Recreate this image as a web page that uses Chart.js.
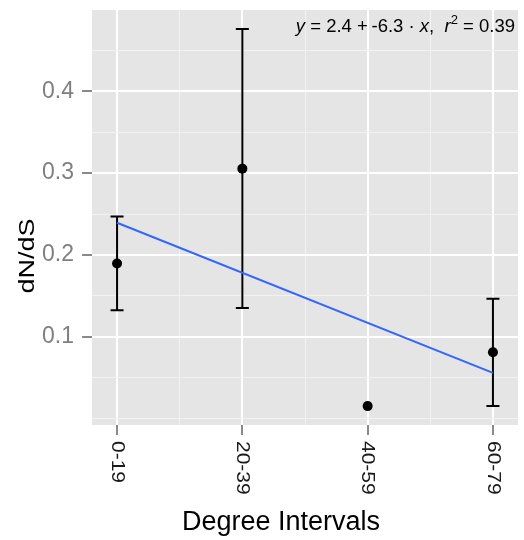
<!DOCTYPE html>
<html>
<head>
<meta charset="utf-8">
<script src="https://cdn.jsdelivr.net/npm/chart.js@4.4.1/dist/chart.umd.min.js"></script>
<style>
  body { margin: 0; background: #ffffff; }
  #wrap { width: 524px; height: 540px; }
</style>
</head>
<body>
<div id="wrap"><canvas id="myChart" width="524" height="540"></canvas></div>
<script>
// Categorie e valori
const categories = ["0-19", "20-39", "40-59", "60-79"];
const dnds = [0.1895, 0.3055, 0.015, 0.081];
const lowerValues = [0.1323, 0.135, null, 0.0151];
const upperValues = [0.247, 0.4765, null, 0.1463];

// Retta di regressione (estremi)
const fitX = [0, 3];
const fitY = [0.2393, 0.0556];

// Tick e griglia
const yGridValues = [0, 0.05, 0.1, 0.15, 0.2, 0.25, 0.3, 0.35, 0.4, 0.45];
const yTickLabels = ["0.1", "0.2", "0.3", "0.4"];
const xGridValues = [0, 0.5, 1, 1.5, 2, 2.5, 3];

const FONT = "'Liberation Sans', Arial, Helvetica, sans-serif";

function isMajorY(v) {
  return yTickLabels.includes(v.toFixed(1)) && Math.abs(v * 10 - Math.round(v * 10)) < 1e-6;
}
function isMajorX(v) {
  return Math.abs(v - Math.round(v)) < 1e-6;
}

// Sfondo grigio del pannello
const panelBackground = {
  id: "panelBackground",
  beforeDraw(chart) {
    const { ctx, chartArea } = chart;
    ctx.save();
    ctx.fillStyle = "#E5E5E5";
    ctx.fillRect(chartArea.left, chartArea.top, chartArea.right - chartArea.left, chartArea.bottom - chartArea.top);
    ctx.restore();
  }
};

// Barre di errore
const errorBars = {
  id: "errorBars",
  beforeDatasetsDraw(chart) {
    const { ctx, scales } = chart;
    ctx.save();
    ctx.strokeStyle = "#000000";
    ctx.lineWidth = 2;
    for (let i = 0; i < categories.length; i++) {
      if (lowerValues[i] === null) continue;
      const px = scales.x.getPixelForValue(i);
      const yLo = scales.y.getPixelForValue(lowerValues[i]);
      const yHi = scales.y.getPixelForValue(upperValues[i]);
      const half = 6.5;
      ctx.beginPath();
      ctx.moveTo(px, yLo);
      ctx.lineTo(px, yHi);
      ctx.moveTo(px - half, yLo);
      ctx.lineTo(px + half, yLo);
      ctx.moveTo(px - half, yHi);
      ctx.lineTo(px + half, yHi);
      ctx.stroke();
    }
    ctx.restore();
  }
};

// Etichette ruotate, titoli degli assi e annotazione
const textLayer = {
  id: "textLayer",
  afterDraw(chart) {
    const { ctx, scales, chartArea } = chart;
    ctx.save();

    // Etichette asse x (ruotate in senso orario)
    ctx.fillStyle = "#1a1a1a";
    ctx.font = "21px " + FONT;
    ctx.textAlign = "left";
    ctx.textBaseline = "middle";
    for (let i = 0; i < categories.length; i++) {
      const px = scales.x.getPixelForValue(i);
      ctx.save();
      ctx.translate(px, chartArea.bottom + 16);
      ctx.rotate(Math.PI / 2);
      ctx.scale(1, 0.9);
      ctx.fillText(categories[i], 0, 0);
      ctx.restore();
    }

    // Titolo asse x
    ctx.fillStyle = "#000000";
    ctx.font = "27px " + FONT;
    ctx.textAlign = "center";
    ctx.textBaseline = "alphabetic";
    ctx.fillText("Degree Intervals", 281, 530);

    // Titolo asse y
    ctx.save();
    ctx.translate(28, 256);
    ctx.rotate(-Math.PI / 2);
    ctx.scale(1, 0.85);
    ctx.font = "27px " + FONT;
    ctx.textAlign = "center";
    ctx.textBaseline = "middle";
    ctx.fillText("dN/dS", 0, 0);
    ctx.restore();

    // Annotazione dell'equazione, con corsivi
    const parts = [
      { t: "y", style: "italic " },
      { t: " = 2.4 +\u2009-6.3 · ", style: "" },
      { t: "x", style: "italic " },
      { t: ",  ", style: "" },
      { t: "r", style: "italic " },
      { t: "2", style: "", sup: true },
      { t: " = 0.39", style: "" }
    ];
    const size = 18.5;
    let total = 0;
    parts.forEach(p => {
      ctx.font = p.style + (p.sup ? Math.round(size * 0.7) : size) + "px " + FONT;
      p.w = ctx.measureText(p.t).width;
      total += p.w;
    });
    let x = chartArea.right - 3 - total;
    const baseline = chartArea.top + 22;
    ctx.textAlign = "left";
    ctx.fillStyle = "#000000";
    parts.forEach(p => {
      ctx.font = p.style + (p.sup ? Math.round(size * 0.7) : size) + "px " + FONT;
      ctx.fillText(p.t, x, p.sup ? baseline - 8 : baseline);
      x += p.w;
    });

    ctx.restore();
  }
};

const ctx = document.getElementById("myChart");
const chart = new Chart(ctx, {
  type: "scatter",
  data: {
    datasets: [
      {
        label: "dN/dS",
        data: categories.map((c, i) => ({ x: i, y: dnds[i] })),
        pointRadius: 5,
        pointHoverRadius: 5,
        backgroundColor: "#000000",
        borderWidth: 0,
        order: 0
      },
      {
        type: "line",
        label: "fit",
        data: fitX.map((v, i) => ({ x: v, y: fitY[i] })),
        borderColor: "#3366FF",
        borderWidth: 2,
        pointRadius: 0,
        fill: false,
        order: 1
      }
    ]
  },
  options: {
    responsive: false,
    animation: false,
    devicePixelRatio: 1,
    layout: { padding: { left: 0, right: 6, top: 10, bottom: 0 } },
    plugins: {
      legend: { display: false },
      tooltip: { enabled: false }
    },
    scales: {
      x: {
        type: "linear",
        min: -0.2,
        max: 3.2,
        afterBuildTicks: (scale) => {
          scale.ticks = xGridValues.map(v => ({ value: v }));
        },
        afterFit: (scale) => {
          scale.height = 115;
          scale.paddingLeft = 0;
          scale.paddingRight = 0;
        },
        ticks: { display: false },
        border: { display: false },
        grid: {
          drawTicks: true,
          tickLength: 10,
          tickWidth: 2,
          tickColor: (c) => isMajorX(c.tick.value) ? "#8a8a8a" : "rgba(0,0,0,0)",
          color: (c) => isMajorX(c.tick.value) ? "#FFFFFF" : "#F2F2F2",
          lineWidth: (c) => isMajorX(c.tick.value) ? 2 : 1
        }
      },
      y: {
        min: -0.0081,
        max: 0.4996,
        afterBuildTicks: (scale) => {
          scale.ticks = yGridValues.map(v => ({ value: v }));
        },
        afterFit: (scale) => {
          scale.width = 92;
          scale.paddingTop = 0;
          scale.paddingBottom = 0;
        },
        ticks: {
          padding: 8,
          color: "#7F7F7F",
          font: { family: FONT, size: 23 },
          callback: (v) => isMajorY(v) ? v.toFixed(1) : ""
        },
        border: { display: false },
        grid: {
          drawTicks: true,
          tickLength: 10,
          tickWidth: 2,
          tickColor: (c) => isMajorY(c.tick.value) ? "#8a8a8a" : "rgba(0,0,0,0)",
          color: (c) => isMajorY(c.tick.value) ? "#FFFFFF" : "#F2F2F2",
          lineWidth: (c) => isMajorY(c.tick.value) ? 2 : 1
        }
      }
    }
  },
  plugins: [panelBackground, errorBars, textLayer]
});
</script>
</body>
</html>
